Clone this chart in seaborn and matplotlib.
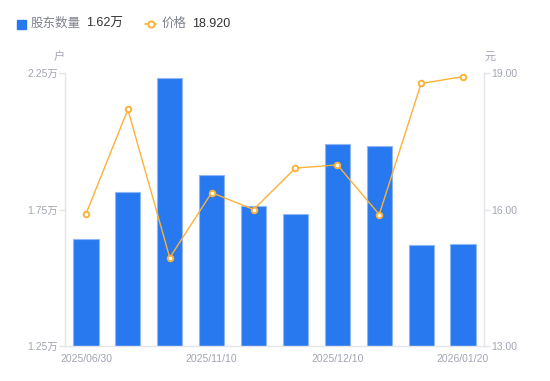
import numpy as np
import pandas as pd
import matplotlib
matplotlib.use("Agg")
import matplotlib.pyplot as plt
import seaborn as sns
from matplotlib.patches import Rectangle
from matplotlib.lines import Line2D

# ============================================================
# DATA
# ============================================================
dates = ["2025/06/30", "2025/09/30", "2025/10/31", "2025/11/10", "2025/11/20",
         "2025/11/30", "2025/12/10", "2025/12/31", "2026/01/10", "2026/01/20"]
holders = [1.642, 1.815, 2.232, 1.878, 1.762, 1.733, 1.990, 1.983, 1.620, 1.625]  # 万户
prices = [15.90, 18.20, 14.94, 16.37, 16.00, 16.91, 16.98, 15.89, 18.77, 18.92]  # 元
shown_dates = ["2025/06/30", "2025/11/10", "2025/12/10", "2026/01/20"]
left_ticks = [1.25, 1.75, 2.25]
right_ticks = [13, 16, 19]

BAR = "#2878f0"
LINE = "#fbb237"
AXIS = "#e3e5ea"
TICK_TXT = "#a2a6b3"

sns.set_theme(style="white")
plt.rcParams['font.family'] = ['Liberation Sans', 'Noto Sans CJK SC', 'DejaVu Sans']

df = pd.DataFrame({"date": dates, "holders": holders, "price": prices})

fig = plt.figure(figsize=(5.5, 3.81), dpi=100)
ax = fig.add_axes([65 / 550, 35 / 381, 419 / 550, 273 / 381])

sns.barplot(data=df, x="date", y="holders", color=BAR, saturation=1, width=0.6,
            edgecolor="#8fb6f5", linewidth=0.8, ax=ax)
ax.set_ylim(1.25, 2.25)
ax.set_xlim(-0.5, len(dates) - 0.5)
ax.set_yticks(left_ticks)
ax.set_yticklabels([f"{t:.2f}万" for t in left_ticks])
ax.set_xticks([dates.index(d) for d in shown_dates])
ax.set_xticklabels(shown_dates)
ax.set_xlabel("")
ax.set_ylabel("")

ax2 = ax.twinx()
sns.pointplot(data=df, x="date", y="price", color=LINE, markers="o",
              linewidth=1, markersize=4, markerfacecolor="white",
              markeredgewidth=1.4, ax=ax2)
ax2.set_ylim(13, 19)
ax2.set_xlim(-0.5, len(dates) - 0.5)
ax2.set_yticks(right_ticks)
ax2.set_yticklabels([f"{t:.2f}" for t in right_ticks])
ax2.set_ylabel("")
ax2.set_xlabel("")

for a in (ax, ax2):
    for s in a.spines.values():
        s.set_visible(False)
    a.grid(False)
ax.spines["left"].set_visible(True)
ax.spines["bottom"].set_visible(True)
ax2.spines["right"].set_visible(True)
for s in (ax.spines["left"], ax.spines["bottom"], ax2.spines["right"]):
    s.set_color(AXIS)
    s.set_linewidth(1)

ax.tick_params(axis="y", length=4, width=1, color=AXIS, labelcolor=TICK_TXT,
               labelsize=7.5, pad=1, left=True)
ax.tick_params(axis="x", length=0, labelcolor=TICK_TXT, labelsize=7.5, pad=6)
ax2.tick_params(axis="y", length=4, width=1, color=AXIS, labelcolor=TICK_TXT,
                labelsize=7.5, pad=1, right=True)

# unit labels
fig.text(59 / 550, 1 - 57 / 381, "户", color=TICK_TXT, fontsize=8, ha="center", va="center")
fig.text(490 / 550, 1 - 57 / 381, "元", color=TICK_TXT, fontsize=8, ha="center", va="center")

# legend
ly = 1 - 24 / 381
fig.add_artist(Rectangle((17 / 550, 1 - 29 / 381), 9 / 550, 9 / 381,
                         transform=fig.transFigure, color=BAR))
fig.text(31 / 550, ly, "股东数量", color="#7d818c", fontsize=9, va="center")
fig.text(86 / 550, ly, "1.62万", color="#333333", fontsize=9, va="center")
fig.add_artist(Line2D([145 / 550, 156 / 550], [ly, ly], transform=fig.transFigure,
                      color=LINE, lw=1.2))
fig.add_artist(Line2D([150.5 / 550], [ly], transform=fig.transFigure, color=LINE,
                      marker="o", markersize=4.5, markerfacecolor="white", markeredgewidth=1.4))
fig.text(162 / 550, ly, "价格", color="#7d818c", fontsize=9, va="center")
fig.text(192 / 550, ly, "18.920", color="#333333", fontsize=9, va="center")

fig.savefig("out.png", dpi=100)
